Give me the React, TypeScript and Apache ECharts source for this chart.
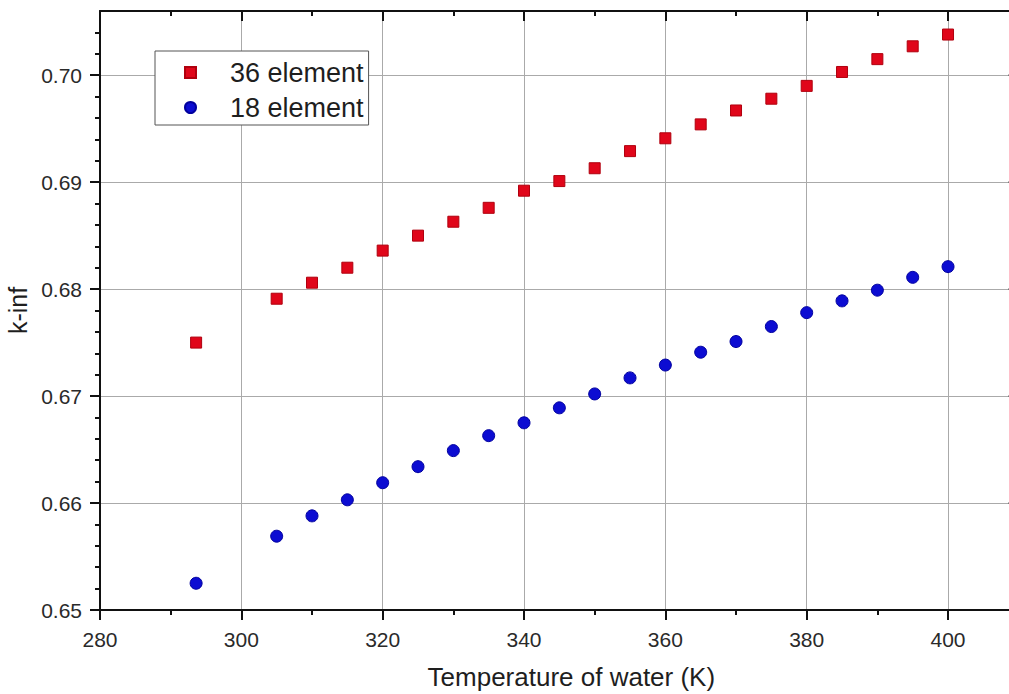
import React, { useEffect, useRef } from "react";
import * as echarts from "echarts";

// Water temperature (K) for each computed point
const temperatures = [293.6, 305, 310, 315, 320, 325, 330, 335, 340, 345, 350, 355, 360, 365, 370, 375, 380, 385, 390, 395, 400];

// k-inf for the 36-element assembly
const kInf36 = [0.675, 0.6791, 0.6806, 0.682, 0.6836, 0.685, 0.6863, 0.6876, 0.6892, 0.6901, 0.6913, 0.6929, 0.6941, 0.6954, 0.6967, 0.6978, 0.699, 0.7003, 0.7015, 0.7027, 0.7038];

// k-inf for the 18-element assembly
const kInf18 = [0.6525, 0.6569, 0.6588, 0.6603, 0.6619, 0.6634, 0.6649, 0.6663, 0.6675, 0.6689, 0.6702, 0.6717, 0.6729, 0.6741, 0.6751, 0.6765, 0.6778, 0.6789, 0.6799, 0.6811, 0.6821];

const seriesNames = ["36 element", "18 element"];

// Tick positions
const xMajorTicks = [280, 300, 320, 340, 360, 380, 400];
const xMinorTicks = [290, 310, 330, 350, 370, 390];
const yMajorTicks = [0.65, 0.66, 0.67, 0.68, 0.69, 0.7];
const yMinorTicks = [
  0.652, 0.654, 0.656, 0.658, 0.662, 0.664, 0.666, 0.668, 0.672, 0.674, 0.676, 0.678,
  0.682, 0.684, 0.686, 0.688, 0.692, 0.694, 0.696, 0.698, 0.702, 0.704,
];

const FONT = "'Liberation Sans', Arial, Helvetica, sans-serif";
const TEXT = "#1e1e1e";
const FRAME = "#111";
const GRIDLINE = "#aaa";

const X_MIN = 280;
const X_MAX = 410;
const Y_MIN = 0.65;
const Y_MAX = 0.706;

function tickAxis(position: string, isX: boolean, values: number[], length: number, inside: boolean, withLine: boolean) {
  return {
    type: "value",
    position,
    min: isX ? X_MIN : Y_MIN,
    max: isX ? X_MAX : Y_MAX,
    interval: isX ? 10 : 0.002,
    axisLine: { show: withLine, onZero: false, lineStyle: { color: FRAME, width: 2 } },
    axisTick: { show: true, inside, length, customValues: values, lineStyle: { color: FRAME, width: 2 } },
    axisLabel: { show: false },
    splitLine: { show: false },
  };
}

export default function App() {
  const ref = useRef<HTMLDivElement>(null);

  useEffect(() => {
    if (!ref.current) return;
    const chart = echarts.init(ref.current, null, { renderer: "svg" });

    chart.setOption({
      animation: false,
      backgroundColor: "#fff",
      grid: { left: 100, top: 11, right: 11.3, bottom: 84, outerBoundsMode: "none" },
      legend: {
        data: seriesNames,
        orient: "vertical",
        left: 155,
        top: 51,
        padding: [8, 5, 4, 29],
        itemWidth: 11,
        itemHeight: 11,
        itemGap: 8,
        backgroundColor: "#fff",
        borderColor: "#555",
        borderWidth: 1,
        borderRadius: 0,
        textStyle: { fontFamily: FONT, fontSize: 27, color: TEXT, padding: [0, 0, 0, 29] },
      },
      xAxis: [
        {
          type: "value",
          position: "bottom",
          min: X_MIN,
          max: X_MAX,
          interval: 20,
          axisLine: { show: true, onZero: false, lineStyle: { color: FRAME, width: 2 } },
          axisTick: { show: true, inside: false, length: 10, customValues: xMajorTicks, lineStyle: { color: FRAME, width: 2 } },
          axisLabel: {
            show: true,
            margin: 19,
            customValues: xMajorTicks,
            fontFamily: FONT,
            fontSize: 21,
            color: "#2a2a2a",
          },
          splitLine: { show: true, lineStyle: { color: GRIDLINE, width: 1 } },
          name: "Temperature of water (K)",
          nameLocation: "middle",
          nameGap: 54,
          nameTextStyle: { fontFamily: FONT, fontSize: 26, color: TEXT, padding: [0, 0, 0, 24] },
        },
        tickAxis("bottom", true, xMinorTicks, 5, false, false),
        tickAxis("top", true, xMajorTicks, 10, true, true),
        tickAxis("top", true, xMinorTicks, 5, true, false),
      ],
      yAxis: [
        {
          type: "value",
          position: "left",
          min: Y_MIN,
          max: Y_MAX,
          interval: 0.01,
          axisLine: { show: true, onZero: false, lineStyle: { color: FRAME, width: 2 } },
          axisTick: { show: true, inside: false, length: 10, customValues: yMajorTicks, lineStyle: { color: FRAME, width: 2 } },
          axisLabel: {
            show: true,
            margin: 18,
            customValues: yMajorTicks,
            fontFamily: FONT,
            fontSize: 21,
            color: "#2a2a2a",
            formatter: (v: number) => v.toFixed(2),
          },
          splitLine: { show: true, lineStyle: { color: GRIDLINE, width: 1 } },
          name: "k-inf",
          nameLocation: "middle",
          nameGap: 67,
          nameRotate: 90,
          nameTextStyle: { fontFamily: FONT, fontSize: 25, color: TEXT },
        },
        tickAxis("left", false, yMinorTicks, 5, false, false),
        tickAxis("right", false, yMajorTicks, 10, true, true),
        tickAxis("right", false, yMinorTicks, 5, true, false),
      ],
      series: [
        {
          name: seriesNames[0],
          type: "scatter",
          xAxisIndex: 0,
          yAxisIndex: 0,
          symbol: "rect",
          symbolSize: 11,
          itemStyle: { color: "#e0061a", borderColor: "#b0000e", borderWidth: 1, opacity: 1 },
          data: temperatures.map((t, i) => [t, kInf36[i]]),
        },
        {
          name: seriesNames[1],
          type: "scatter",
          xAxisIndex: 0,
          yAxisIndex: 0,
          symbol: "circle",
          symbolSize: 12,
          itemStyle: { color: "#0c0cd2", borderColor: "#00009e", borderWidth: 1, opacity: 1 },
          data: temperatures.map((t, i) => [t, kInf18[i]]),
        },
      ],
    });

    return () => chart.dispose();
  }, []);

  return (
    <div
      style={{
        position: "fixed",
        left: 0,
        top: 0,
        width: 1009,
        height: 694,
        overflow: "hidden",
        background: "#fff",
      }}
    >
      <div ref={ref} style={{ width: 1030, height: 694 }} />
    </div>
  );
}
